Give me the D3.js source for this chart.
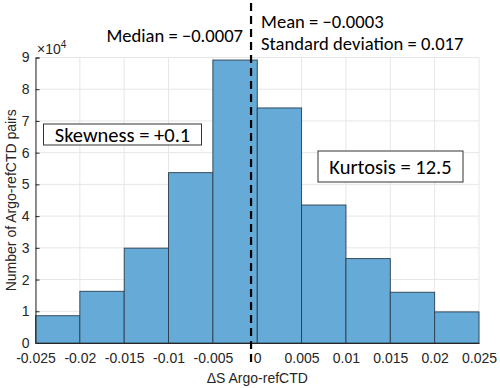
<!DOCTYPE html>
<meta charset="utf-8">
<style>
body { margin:0; background:#fff; }
.ann { font-family:Carlito, "Open Sans", sans-serif; font-size:18.6px; fill:#000; }
.boxt { font-family:Carlito, "Open Sans", sans-serif; font-size:20.5px; fill:#000; }
</style>
<body>
<div id="chart"></div>
<script src="https://cdn.jsdelivr.net/npm/d3@7"></script>
<script>
var width = 500, height = 388;
var margin = {top: 57.5, right: 21, bottom: 45, left: 35.5};

// histogram data
var binEdges = [-0.025, -0.02, -0.015, -0.01, -0.005, 0, 0.005, 0.01, 0.015, 0.02, 0.025];
var counts = [8600, 16300, 29900, 53700, 89200, 74100, 43500, 26600, 16000, 9800];
var xTicks = [-0.025, -0.02, -0.015, -0.01, -0.005, 0, 0.005, 0.01, 0.015, 0.02, 0.025];
var xTickLabels = ["-0.025", "-0.02", "-0.015", "-0.01", "-0.005", "0", "0.005", "0.01", "0.015", "0.02", "0.025"];
var yTicks = [0, 1, 2, 3, 4, 5, 6, 7, 8, 9];
var median = -0.0007;

var svg = d3.select("#chart").append("svg")
    .attr("width", width)
    .attr("height", height);

var x = d3.scaleLinear()
    .domain([-0.025, 0.025])
    .range([margin.left, width - margin.right]);

var y = d3.scaleLinear()
    .domain([0, 9])
    .range([height - margin.bottom, margin.top]);

// grid
svg.append("g").selectAll("line")
  .data(xTicks).enter().append("line")
    .attr("x1", function(d) { return x(d); })
    .attr("x2", function(d) { return x(d); })
    .attr("y1", y(0)).attr("y2", y(9))
    .attr("stroke", "#e6e6e6");
svg.append("g").selectAll("line")
  .data(yTicks).enter().append("line")
    .attr("x1", x(-0.025)).attr("x2", x(0.025))
    .attr("y1", function(d) { return y(d); })
    .attr("y2", function(d) { return y(d); })
    .attr("stroke", "#e6e6e6");

// bars
svg.append("g").selectAll("rect")
  .data(counts).enter().append("rect")
    .attr("x", function(d, i) { return x(binEdges[i]); })
    .attr("width", function(d, i) { return x(binEdges[i + 1]) - x(binEdges[i]); })
    .attr("y", function(d) { return y(d / 1e4); })
    .attr("height", function(d) { return y(0) - y(d / 1e4); })
    .attr("fill", "#66aad7")
    .attr("stroke", "#2b3f4f")
    .attr("stroke-width", 0.9);

// axes
var xAxis = svg.append("g")
    .attr("transform", "translate(0," + y(0) + ")")
    .attr("font-family", "Liberation Sans, Arial, sans-serif")
    .attr("font-size", 14)
    .call(d3.axisBottom(x).tickValues(xTicks).tickSize(0).tickPadding(10)
      .tickFormat(function(d, i) { return xTickLabels[i]; }));
xAxis.attr("font-family", "Liberation Sans, Arial, sans-serif").attr("font-size", 14);
xAxis.select(".domain").attr("stroke", "#262626");
xAxis.selectAll(".tick text").attr("fill", "#262626");

var yAxis = svg.append("g")
    .attr("transform", "translate(" + x(-0.025) + ",0)")
    .call(d3.axisLeft(y).tickValues(yTicks).tickSize(-4).tickPadding(6));
yAxis.attr("font-family", "Liberation Sans, Arial, sans-serif").attr("font-size", 14);
yAxis.select(".domain").attr("stroke", "#262626");
yAxis.selectAll(".tick line").attr("stroke", "#262626");
yAxis.selectAll(".tick text").attr("fill", "#262626");

// exponent label
var ex = svg.append("text")
    .attr("x", 37).attr("y", 54)
    .attr("font-family", "Liberation Sans, Arial, sans-serif")
    .attr("font-size", 14).attr("fill", "#262626");
ex.append("tspan").text("\u00d710");
ex.append("tspan").attr("dy", -6).attr("font-size", 10).text("4");

// axis labels
svg.append("text")
    .attr("transform", "translate(16," + ((y(0) + y(9)) / 2) + ") rotate(-90)")
    .attr("text-anchor", "middle")
    .attr("font-family", "Liberation Sans, Arial, sans-serif")
    .attr("font-size", 14).attr("fill", "#262626")
    .text("Number of Argo-refCTD pairs");

svg.append("text")
    .attr("x", (x(-0.025) + x(0.025)) / 2).attr("y", 383)
    .attr("text-anchor", "middle")
    .attr("font-family", "Liberation Sans, Arial, sans-serif")
    .attr("font-size", 14).attr("fill", "#262626")
    .text("\u0394S Argo-refCTD");

// median line
svg.append("line")
    .attr("x1", x(median)).attr("x2", x(median))
    .attr("y1", 3).attr("y2", 364)
    .attr("stroke", "#000").attr("stroke-width", 2.2)
    .attr("stroke-dasharray", "8,5");

// annotations
svg.append("text").attr("class", "ann")
    .attr("x", 243).attr("y", 42).attr("text-anchor", "end")
    .text("Median = \u22120.0007");
svg.append("text").attr("class", "ann")
    .attr("x", 261).attr("y", 28)
    .text("Mean = \u22120.0003");
svg.append("text").attr("class", "ann")
    .attr("x", 261).attr("y", 50)
    .text("Standard deviation = 0.017");

function box(x0, y0, w, h, label) {
  svg.append("rect")
    .attr("x", x0).attr("y", y0).attr("width", w).attr("height", h)
    .attr("fill", "#fff").attr("stroke", "#333").attr("stroke-width", 1);
  svg.append("text").attr("class", "boxt")
    .attr("x", x0 + w / 2).attr("y", y0 + h / 2 + 7)
    .attr("text-anchor", "middle")
    .text(label);
}
box(43.5, 124, 158, 21, "Skewness = +0.1");
box(318, 151, 145, 31, "Kurtosis = 12.5");
</script>
</body>
